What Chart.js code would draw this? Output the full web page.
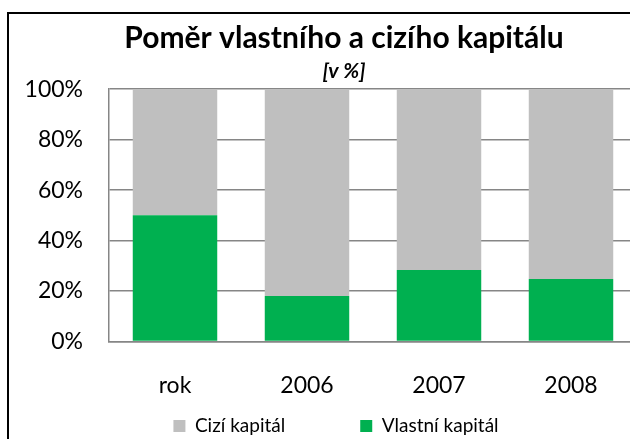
<!DOCTYPE html>
<html lang="cs">
<head>
<meta charset="utf-8">
<title>Poměr vlastního a cizího kapitálu</title>
<script src="https://cdn.jsdelivr.net/npm/chart.js@4/dist/chart.umd.min.js"></script>
<style>
  html, body { margin: 0; padding: 0; background: #fff; overflow: hidden; }
  body { width: 630px; height: 439px; position: relative; }
  /* rámeček grafu - pravá a spodní hrana jsou mimo výřez */
  .frame { position: absolute; left: 7px; top: 12px; width: 700px; height: 500px; border: 2px solid #000; }
  .chart-box { position: absolute; left: 9px; top: 14px; width: 652px; height: 425px; }
</style>
</head>
<body>
<div class="frame"></div>
<div class="chart-box"><canvas id="kapitalChart"></canvas></div>
<script>
// Data grafu (v %)
const roky = ['rok', '2006', '2007', '2008'];
const vlastniKapital = [50, 18, 28.3, 24.7];
const ciziKapital = [50, 82, 71.7, 75.3];
const osaYTicks = [0, 20, 40, 60, 80, 100];

const FONT = 'Lato, "Open Sans", sans-serif';
const GRID = '#868686';
const LEGEND_GAP = 75; // mezera mezi položkami legendy

// Legenda má velký padding kvůli mezeře mezi položkami, proto ji po rozložení
// posuneme pod graf (text pak sedí až pod popisky osy X).
// Titulek a legenda jsou v originále trochu vpravo od středu.
const legendPosun = {
    id: 'legendPosun',
    afterLayout(chart) {
        const lg = chart.legend;
        if (lg) {
            lg.top = chart.chartArea.bottom;
            lg.left += 8;
            lg.right += 8;
        }
        chart.boxes.filter(b => b.position === 'top').forEach(b => {
            b.left += 16;
            b.right += 16;
        });
    }
};

const ctx = document.getElementById('kapitalChart').getContext('2d');
new Chart(ctx, {
    type: 'bar',
    data: {
        labels: roky,
        datasets: [
            // první dataset je dole ve sloupci
            { label: 'Vlastní kapitál', data: vlastniKapital, backgroundColor: '#00B050', borderWidth: 0 },
            { label: 'Cizí kapitál', data: ciziKapital, backgroundColor: '#BFBFBF', borderWidth: 0 }
        ]
    },
    options: {
        responsive: true,
        maintainAspectRatio: false,
        animation: false,
        layout: { padding: { top: 0, left: 10, right: 24, bottom: 0 } },
        datasets: { bar: { categoryPercentage: 0.8, barPercentage: 0.8 } },
        scales: {
            x: {
                stacked: true,
                grid: { display: false, drawTicks: false },
                border: { display: true, color: GRID, width: 1.5 },
                ticks: { color: '#000', padding: 30, font: { family: FONT, size: 23 } }
            },
            y: {
                stacked: true,
                min: 0,
                max: 100,
                afterFit: (scale) => { scale.width = 90; },
                afterBuildTicks: (scale) => { scale.ticks = osaYTicks.map(v => ({ value: v })); },
                grid: { color: GRID, lineWidth: 1.5, drawTicks: false },
                border: { display: true, color: GRID, width: 1.5 },
                ticks: {
                    color: '#000',
                    padding: 26,
                    font: { family: FONT, size: 23 },
                    callback: (v) => `${v}%`
                }
            }
        },
        plugins: {
            title: {
                display: true,
                text: 'Poměr vlastního a cizího kapitálu',
                color: '#000',
                font: { family: FONT, size: 30, weight: 'bold', lineHeight: 1.2 },
                padding: { top: 6, bottom: 0 }
            },
            subtitle: {
                display: true,
                text: '[v %]',
                color: '#000',
                font: { family: FONT, size: 21, weight: 'bold', style: 'italic', lineHeight: 1.2 },
                padding: { top: 3, bottom: 5 }
            },
            legend: {
                position: 'bottom',
                reverse: true,
                maxHeight: 10,
                labels: {
                    color: '#000',
                    boxWidth: 12,
                    boxHeight: 12,
                    padding: LEGEND_GAP,
                    font: { family: FONT, size: 19 }
                }
            },
            tooltip: { enabled: false }
        }
    },
    plugins: [legendPosun]
});
</script>
</body>
</html>
